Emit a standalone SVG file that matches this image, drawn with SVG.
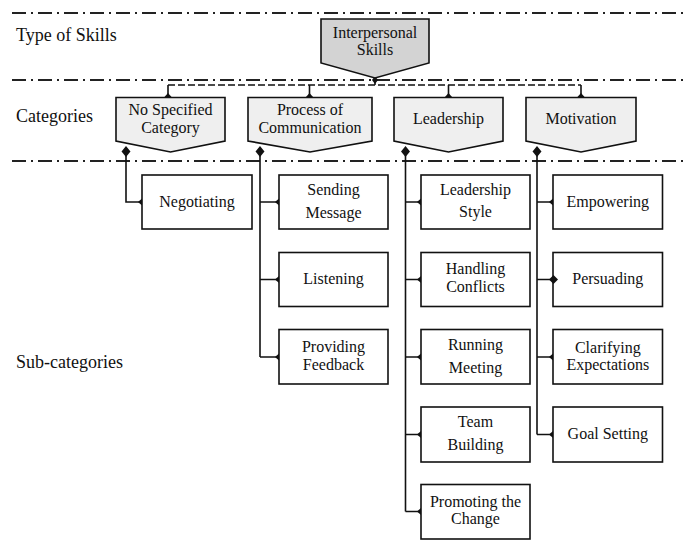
<svg xmlns="http://www.w3.org/2000/svg" width="686" height="548" viewBox="0 0 686 548">
  <defs>
    <style>
      .lbl { font-family: "Times New Roman", "Liberation Serif", Times, "Nimbus Roman", "DejaVu Serif", "FreeSerif", serif; font-size: 18px; fill: #111; }
      .t { font-family: "Times New Roman", "Liberation Serif", Times, "Nimbus Roman", "DejaVu Serif", "FreeSerif", serif; font-size: 16px; fill: #111; text-anchor: middle; }
      .sep { stroke: #222; stroke-width: 2; fill: none; stroke-dasharray: 14 5 2 5; }
      .box { fill: #fff; stroke: #111; stroke-width: 1.6; }
      .cat { fill: #efefef; stroke: #111; stroke-width: 1.6; }
      .top { fill: #d3d3d3; stroke: #111; stroke-width: 1.6; }
      .link { stroke: #111; stroke-width: 1.6; fill: none; }
      .dash { stroke: #111; stroke-width: 1.5; fill: none; stroke-dasharray: 7 3; }
      .head { fill: #111; }
    </style>
    <linearGradient id="fade" x1="0" y1="0" x2="1" y2="0">
      <stop offset="0" stop-color="#222"/>
      <stop offset="1" stop-color="#bbb"/>
    </linearGradient>
  </defs>

  <!-- band separators -->
  <g id="separators">
    <line class="sep" x1="12" y1="13" x2="686" y2="13"/>
    <line class="sep" x1="12" y1="80" x2="686" y2="80"/>
    <line class="sep" x1="12" y1="161" x2="686" y2="161"/>
    <line x1="12" y1="545" x2="686" y2="545" stroke="url(#fade)" stroke-width="3" stroke-dasharray="12 3 3 3"/>
  </g>

  <!-- row labels -->
  <g id="row-labels">
    <text class="lbl" x="16" y="41">Type of Skills</text>
    <text class="lbl" x="16" y="122">Categories</text>
    <text class="lbl" x="16" y="368">Sub-categories</text>
  </g>

  <!-- connectors -->
  <g id="connectors">
    <!-- skill type to categories -->
    <path class="dash" d="M375 80 V85 M168 85 H581"/>
    <path class="link" d="M168 85 V95 M309.5 85 V95 M448.5 85 V95 M581 85 V95"/>
    <polygon class="head" points="375,76 378,80 375,84 372,80"/>
    <polygon class="head" points="168,93 172,97.5 164,97.5"/>
    <polygon class="head" points="309.5,93 313.5,97.5 305.5,97.5"/>
    <polygon class="head" points="448.5,93 452.5,97.5 444.5,97.5"/>
    <polygon class="head" points="581,93 585,97.5 577,97.5"/>

    <!-- category to sub-category trunks -->
    <path class="link" d="M126 155 V202 H141"/>
    <path class="link" d="M260 155 V357 M260 202 H278 M260 279.5 H278 M260 357 H278"/>
    <path class="link" d="M405.5 155 V511.5 M405.5 202 H420 M405.5 279.5 H420 M405.5 357 H420 M405.5 434.5 H420 M405.5 511.5 H420"/>
    <path class="link" d="M537 155 V434.5 M537 202 H552 M537 279.5 H552 M537 357 H552 M537 434.5 H552"/>

    <!-- start diamonds -->
    <polygon class="head" points="126,146 130.5,151.5 126,157 121.5,151.5"/>
    <polygon class="head" points="260,146 264.5,151.5 260,157 255.5,151.5"/>
    <polygon class="head" points="405.5,146 410,151.5 405.5,157 401,151.5"/>
    <polygon class="head" points="537,146 541.5,151.5 537,157 532.5,151.5"/>

    <!-- end heads -->
    <polygon class="head" points="138,202 142,198.5 142,205.5"/>
    <polygon class="head" points="275,202 279,198.5 279,205.5"/>
    <polygon class="head" points="275,279.5 279,276 279,283"/>
    <polygon class="head" points="275,357 279,353.5 279,360.5"/>
    <polygon class="head" points="417,202 421,198.5 421,205.5"/>
    <polygon class="head" points="417,279.5 421,276 421,283"/>
    <polygon class="head" points="417,357 421,353.5 421,360.5"/>
    <polygon class="head" points="417,434.5 421,431 421,438"/>
    <polygon class="head" points="417,511.5 421,508 421,515"/>
    <polygon class="head" points="549,202 553,198.5 553,205.5"/>
    <polygon class="head" points="549,357 553,353.5 553,360.5"/>
    <polygon class="head" points="549,434.5 553,431 553,438"/>
  </g>

  <!-- skill type -->
  <g id="interpersonal-skills">
    <polygon class="top" points="321,19 429,19 429,63 375,78 321,63"/>
    <text class="t" x="375" y="38">Interpersonal</text>
    <text class="t" x="375" y="55">Skills</text>
  </g>

  <!-- categories -->
  <g id="no-specified-category">
    <polygon class="cat" points="116,97.5 225,97.5 225,141 170.5,152 116,141"/>
    <text class="t" x="170.5" y="115">No Specified</text>
    <text class="t" x="170.5" y="132.5">Category</text>
  </g>
  <g id="process-of-communication">
    <polygon class="cat" points="248,97.5 372,97.5 372,141 310,152 248,141"/>
    <text class="t" x="310" y="115">Process of</text>
    <text class="t" x="310" y="132.5">Communication</text>
  </g>
  <g id="leadership">
    <polygon class="cat" points="394,97.5 503,97.5 503,141 448.5,152 394,141"/>
    <text class="t" x="448.5" y="124">Leadership</text>
  </g>
  <g id="motivation">
    <polygon class="cat" points="526,97.5 636,97.5 636,141 581,152 526,141"/>
    <text class="t" x="581" y="124">Motivation</text>
  </g>

  <!-- sub-categories: no specified category -->
  <g id="negotiating">
    <rect class="box" x="142" y="175" width="110" height="54"/>
    <text class="t" x="197" y="207">Negotiating</text>
  </g>

  <!-- sub-categories: process of communication -->
  <g id="sending-message">
    <rect class="box" x="279" y="175" width="109" height="54"/>
    <text class="t" x="333.5" y="195">Sending</text>
    <text class="t" x="333.5" y="218">Message</text>
  </g>
  <g id="listening">
    <rect class="box" x="279" y="252.5" width="109" height="54"/>
    <text class="t" x="333.5" y="284">Listening</text>
  </g>
  <g id="providing-feedback">
    <rect class="box" x="279" y="329.5" width="109" height="54.5"/>
    <text class="t" x="333.5" y="352">Providing</text>
    <text class="t" x="333.5" y="370">Feedback</text>
  </g>

  <!-- sub-categories: leadership -->
  <g id="leadership-style">
    <rect class="box" x="421" y="175" width="109" height="54"/>
    <text class="t" x="475.5" y="195">Leadership</text>
    <text class="t" x="475.5" y="217">Style</text>
  </g>
  <g id="handling-conflicts">
    <rect class="box" x="421" y="252.5" width="109" height="54"/>
    <text class="t" x="475.5" y="274">Handling</text>
    <text class="t" x="475.5" y="292">Conflicts</text>
  </g>
  <g id="running-meeting">
    <rect class="box" x="421" y="329.5" width="109" height="54.5"/>
    <text class="t" x="475.5" y="350">Running</text>
    <text class="t" x="475.5" y="373">Meeting</text>
  </g>
  <g id="team-building">
    <rect class="box" x="421" y="407" width="109" height="55"/>
    <text class="t" x="475.5" y="427">Team</text>
    <text class="t" x="475.5" y="450">Building</text>
  </g>
  <g id="promoting-the-change">
    <rect class="box" x="421" y="484.5" width="109" height="54.5"/>
    <text class="t" x="475.5" y="507">Promoting the</text>
    <text class="t" x="475.5" y="524">Change</text>
  </g>

  <!-- sub-categories: motivation -->
  <g id="empowering">
    <rect class="box" x="553" y="175" width="109.5" height="54"/>
    <text class="t" x="607.8" y="207">Empowering</text>
  </g>
  <g id="persuading">
    <rect class="box" x="553" y="252.5" width="109.5" height="54"/>
    <text class="t" x="607.8" y="284">Persuading</text>
    <polygon class="head" points="553.5,275 558,279.5 553.5,284 549,279.5"/>
  </g>
  <g id="clarifying-expectations">
    <rect class="box" x="553" y="329.5" width="109.5" height="54.5"/>
    <text class="t" x="607.8" y="353">Clarifying</text>
    <text class="t" x="607.8" y="370">Expectations</text>
  </g>
  <g id="goal-setting">
    <rect class="box" x="553" y="407" width="109.5" height="55"/>
    <text class="t" x="607.8" y="439">Goal Setting</text>
  </g>
</svg>
